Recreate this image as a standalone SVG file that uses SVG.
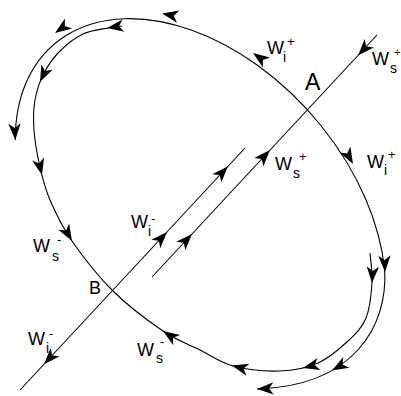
<svg xmlns="http://www.w3.org/2000/svg" xmlns:xlink="http://www.w3.org/1999/xlink" width="401" height="396" viewBox="0 0 401 396">
<style>
.c{fill:none;stroke:#000;stroke-width:1.1}
.t{font-family:"Liberation Sans",Arial,sans-serif;fill:#000}
.big{font-size:18px}
.sub{font-size:14px}
.sup{font-size:13px}
</style>
<defs>
<path id="ah" d="M0,0 L-16.5,-6.2 L-12,0 L-16.5,6.2 Z" fill="#000"/>
</defs>
<rect width="401" height="396" fill="#fff"/>
<g id="connectors">
<path id="outer" class="c" d="M15.3,140 A224,149 48.9 0 1 384.7,270 C387.8,325 355,386 257,389"/>
<path id="inner" class="c" d="M370,253 C370.3,258 372.7,272.2 372,283 C371.3,293.8 370,308.3 366,318 C362,327.7 356,333.5 348,341 C340,348.5 329.3,358 318,363 C306.7,368 294.2,370.5 280,371 C265.8,371.5 246.3,369.5 233,366 C219.7,362.5 211.7,355.8 200,350 C188.3,344.2 177.5,340.8 163,331 C148.5,321.2 128.2,306 113,291 C97.8,276 82.5,256.2 72,241 C61.5,225.8 55.3,212.3 50,200 C44.7,187.7 42.7,178.7 40,167 C37.3,155.3 34.8,141.2 34,130 C33.2,118.8 33.3,109.5 35,100 C36.7,90.5 39.8,81.2 44,73 C48.2,64.8 53.5,57.5 60,51 C66.5,44.5 75,37.8 83,34 C91,30.2 101.5,29.3 108,28 C114.5,26.7 119.7,26.3 122,26"/>
<path id="lineB" class="c" d="M20,390 L245,148"/>
<path id="lineA" class="c" d="M152,277 L377,35"/>
<use xlink:href="#ah" transform="translate(253,53) rotate(215)"/>
<use xlink:href="#ah" transform="translate(162,13.4) rotate(191)"/>
<use xlink:href="#ah" transform="translate(55,33) rotate(145)"/>
<use xlink:href="#ah" transform="translate(15.3,140) rotate(87)"/>
<use xlink:href="#ah" transform="translate(353,164) rotate(61)"/>
<use xlink:href="#ah" transform="translate(385,272) rotate(88)"/>
<use xlink:href="#ah" transform="translate(332,370.4) rotate(150.5)"/>
<use xlink:href="#ah" transform="translate(257,389) rotate(178)"/>
<use xlink:href="#ah" transform="translate(372,283) rotate(93)"/>
<use xlink:href="#ah" transform="translate(303,368) rotate(166)"/>
<use xlink:href="#ah" transform="translate(232,365.5) rotate(195)"/>
<use xlink:href="#ah" transform="translate(163,331) rotate(214)"/>
<use xlink:href="#ah" transform="translate(72,241) rotate(60)"/>
<use xlink:href="#ah" transform="translate(42,175) rotate(76)"/>
<use xlink:href="#ah" transform="translate(40,82) rotate(115)"/>
<use xlink:href="#ah" transform="translate(107,28) rotate(172)"/>
<use xlink:href="#ah" transform="translate(44,364.2) rotate(132.9)"/>
<use xlink:href="#ah" transform="translate(167,232) rotate(-47.1)"/>
<use xlink:href="#ah" transform="translate(228,166.3) rotate(-47.1)"/>
<use xlink:href="#ah" transform="translate(192,234) rotate(-47.1)"/>
<use xlink:href="#ah" transform="translate(270,150.1) rotate(-47.1)"/>
<use xlink:href="#ah" transform="translate(358,55.4) rotate(132.9)"/>
</g>
<g id="node-A"><text class="t" x="305" y="90" font-size="23">A</text></g>
<g id="node-B"><text class="t big" x="89" y="294">B</text></g>
<g id="label-wi-plus-top"><text class="t big" x="267" y="54">W</text><text class="t sub" x="283" y="62">i</text><text class="t sup" x="287" y="46">+</text></g>
<g id="label-ws-plus-top"><text class="t big" x="372" y="65">W</text><text class="t sub" x="390" y="73">s</text><text class="t" font-size="11" x="394" y="56">+</text></g>
<g id="label-ws-plus-mid"><text class="t big" x="275" y="170">W</text><text class="t sub" x="293" y="178">s</text><text class="t sup" x="299" y="161">+</text></g>
<g id="label-wi-plus-right"><text class="t big" x="367" y="168">W</text><text class="t sub" x="384" y="175">i</text><text class="t sup" x="388" y="159">+</text></g>
<g id="label-wi-minus-mid"><text class="t big" x="131" y="228">W</text><text class="t sub" x="148" y="236">i</text><text class="t sup" x="151" y="223">-</text></g>
<g id="label-ws-minus-left"><text class="t big" x="33" y="252">W</text><text class="t sub" x="52" y="261">s</text><text class="t sup" x="57" y="244">-</text></g>
<g id="label-wi-minus-bottom"><text class="t big" x="28" y="345">W</text><text class="t sub" x="46" y="353">i</text><text class="t sup" x="49" y="338">-</text></g>
<g id="label-ws-minus-bottom"><text class="t big" x="137" y="356">W</text><text class="t sub" x="156" y="363">s</text><text class="t sup" x="160" y="346">-</text></g>
</svg>
